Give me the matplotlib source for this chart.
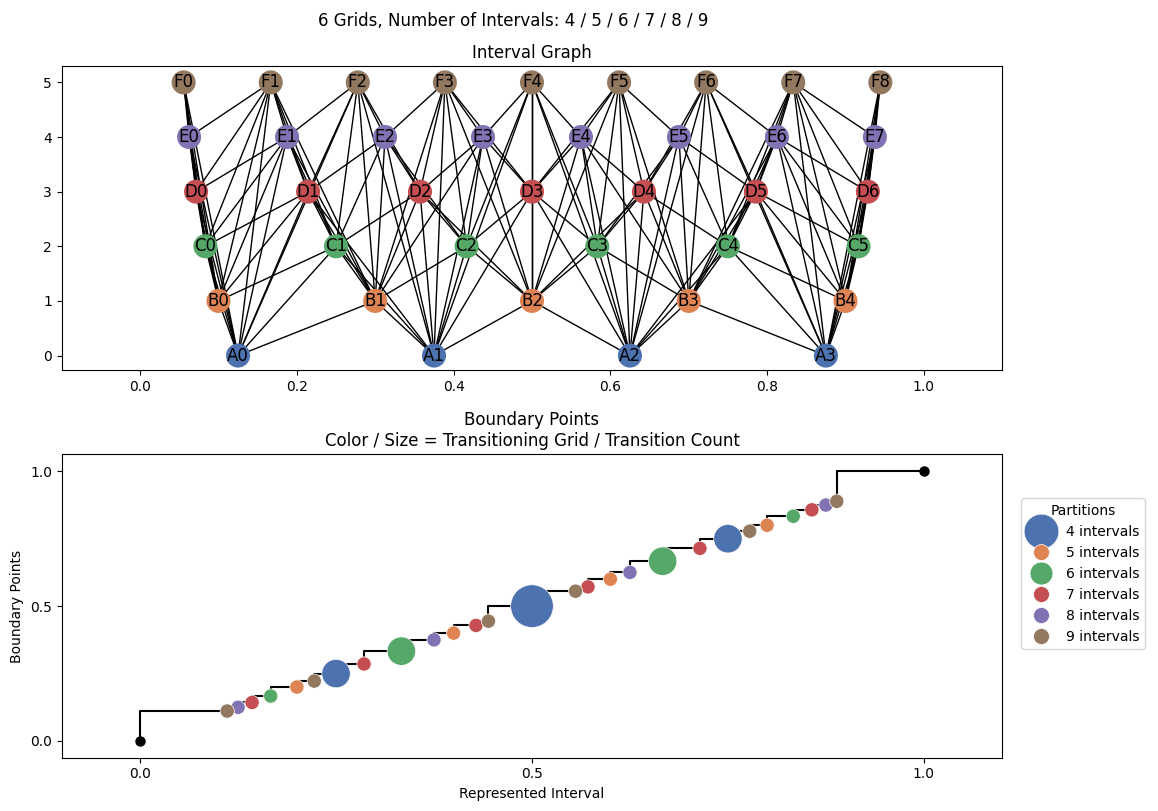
import matplotlib
matplotlib.use("Agg")
import matplotlib.pyplot as plt
from matplotlib.collections import LineCollection
from matplotlib.lines import Line2D
from fractions import Fraction

# ---- data ----
interval_counts = [4, 5, 6, 7, 8, 9]
grid_letters = ["A", "B", "C", "D", "E", "F"]
grid_colors = ["#4C72B0", "#DD8452", "#55A868", "#C44E52", "#8172B3", "#937860"]
legend_labels = ["4 intervals", "5 intervals", "6 intervals",
                 "7 intervals", "8 intervals", "9 intervals"]
legend_marker_sizes = [25, 11.5, 16.5, 11.5, 11.5, 11.5]
x_ticks_top = [0.0, 0.2, 0.4, 0.6, 0.8, 1.0]
y_ticks_top = [0, 1, 2, 3, 4, 5]
ticks_bottom = [0.0, 0.5, 1.0]

TITLE_FONT = "DejaVu Sans"

# grids: intervals [i/n, (i+1)/n]
grids = []
for n in interval_counts:
    grids.append([(Fraction(i, n), Fraction(i + 1, n)) for i in range(n)])

fig = plt.figure(figsize=(11.58, 8.11), dpi=100)
ax1 = fig.add_axes([0.0533, 0.5434, 0.8122, 0.3752])
ax2 = fig.add_axes([0.0533, 0.0657, 0.8122, 0.3741])

fig.suptitle("6 Grids, Number of Intervals: 4 / 5 / 6 / 7 / 8 / 9",
             fontsize=12, family=TITLE_FONT, x=0.443, y=0.985)

# ---- top: interval graph ----
nodes = []
for level, (letter, color, grid) in enumerate(zip(grid_letters, grid_colors, grids)):
    for i, (lo, hi) in enumerate(grid):
        nodes.append(dict(name=f"{letter}{i}", x=float((lo + hi) / 2), y=level,
                          lo=lo, hi=hi, color=color, level=level))

segments = []
for a in range(len(nodes)):
    for b in range(a + 1, len(nodes)):
        na, nb = nodes[a], nodes[b]
        if na["level"] == nb["level"]:
            continue
        if min(na["hi"], nb["hi"]) > max(na["lo"], nb["lo"]):
            segments.append([(na["x"], na["y"]), (nb["x"], nb["y"])])

lc = LineCollection(segments, colors="k", linewidths=1.0, zorder=1)
ax1.add_collection(lc)
ax1.scatter([n["x"] for n in nodes], [n["y"] for n in nodes], s=300,
            c=[n["color"] for n in nodes], zorder=2, linewidths=0)
for n in nodes:
    ax1.text(n["x"], n["y"], n["name"], ha="center", va="center", fontsize=12,
             family="DejaVu Sans", zorder=3)
ax1.set_xlim(-0.1, 1.1)
ax1.set_ylim(-0.27, 5.3)
ax1.set_xticks(x_ticks_top)
ax1.set_yticks(y_ticks_top)
ax1.set_title("Interval Graph", fontsize=12, family=TITLE_FONT)

# ---- bottom: boundary points ----
all_bounds = sorted(set(b for g in grids for iv in g for b in iv))
bx = [float(b) for b in all_bounds]
ax2.plot(bx, bx, drawstyle="steps-pre", color="k", lw=1.5, zorder=1)
ax2.plot([0, 1], [0, 1], "o", color="k", ms=6.5, ls="none", zorder=2)

for gi, (grid, color) in enumerate(zip(grids, grid_colors)):
    xs, ss = [], []
    inner = [lo for lo, hi in grid][1:]
    for b in inner:
        owners = [k for k, g in enumerate(grids) if b in [lo for lo, hi in g]]
        if owners[0] != gi:
            continue
        cnt = len(owners)
        xs.append(float(b))
        ss.append(105 * cnt ** 2)
    ax2.scatter(xs, xs, s=ss, c=color, edgecolors="white", linewidths=0.5, zorder=3)

ax2.set_xlim(-0.1, 1.1)
ax2.set_ylim(-0.062, 1.063)
ax2.set_xticks(ticks_bottom)
ax2.set_yticks(ticks_bottom)
ax2.set_xlabel("Represented Interval")
ax2.set_ylabel("Boundary Points")
ax2.set_title("Boundary Points\nColor / Size = Transitioning Grid / Transition Count",
              fontsize=12, family=TITLE_FONT)

handles = [Line2D([], [], marker="o", ls="none", color=c, markeredgecolor="white",
                  markeredgewidth=0.5, markersize=ms)
           for c, ms in zip(grid_colors, legend_marker_sizes)]
ax2.legend(handles, legend_labels, title="Partitions", loc="upper left",
           bbox_to_anchor=(1.02, 0.855), borderaxespad=0)

fig.savefig("out.png", dpi=100)
